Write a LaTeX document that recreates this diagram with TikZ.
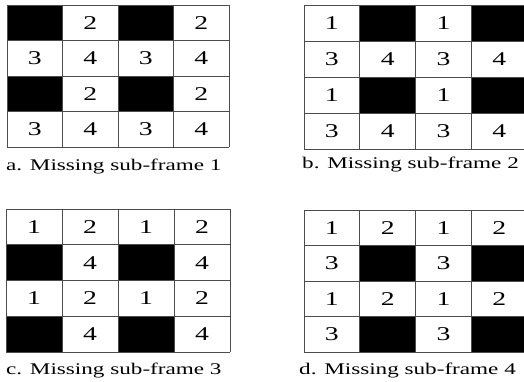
\documentclass[tikz,border=0pt]{standalone}
\usepackage{fontspec}
\setmainfont{Liberation Serif}
\newfontfamily\widefont[FakeStretch=1.42]{Liberation Serif}
\usepackage{tikz}
\usetikzlibrary{positioning}
\tikzset{%
  gridline/.style={draw=black!70,line width=1pt},
  hole/.style={fill=black},
  digit/.style={font=\widefont\fontsize{19.5}{20}\selectfont,inner sep=0pt},
  caption/.style={font=\widefont\fontsize{16.3}{18}\selectfont,anchor=base west,inner sep=0pt}%
}
% one 4x4 sub-frame: #1,#2 top left corner, #3,#4 cell size, #5 missing sub-frame, #6 name
\newcommand{\subframe}[6]{%
  \foreach \r in {0,...,3}{%
    \foreach \c in {0,...,3}{%
      \pgfmathtruncatemacro{\lab}{1+mod(\c,2)+2*mod(\r,2)}%
      \coordinate (#6-\r\c) at ({#1+(\c+0.5)*#3},{-(#2+(\r+0.5)*#4)});
      \ifnum\lab=#5
        \fill[hole] ({#1+\c*#3},{-(#2+\r*#4)}) rectangle ++(#3,-#4);
      \else
        \node[digit] at (#6-\r\c) {\lab};
      \fi
    }%
  }%
  \foreach \i in {0,...,4}{%
    \draw[gridline] ({#1+\i*#3},{-#2}) -- ++(0,{-4*#4});
    \draw[gridline] ({#1},{-(#2+\i*#4)}) -- ++({4*#3},0);
  }%
}

\begin{document}
\begin{tikzpicture}[x=1pt,y=1pt]
\useasboundingbox (0,0) rectangle (524,-381);
\clip (0,0) rectangle (524,-381);

% four sub-frame grids
\subframe{7}{5}{55.5}{35.5}{1}{fa}
\subframe{304}{5}{55.8}{36}{2}{fb}
\subframe{6}{209}{56}{35.75}{3}{fc}
\subframe{304}{210}{55.8}{35.5}{4}{fd}

% captions
\node[caption] (capa) at (6,-170.5) {a. Missing sub-frame 1};
\node[caption] (capb) at (302,-168.5) {b. Missing sub-frame 2};
\node[caption] (capc) at (6,-374) {c. Missing sub-frame 3};
\node[caption] (capd) at (299,-374) {d. Missing sub-frame 4};

\end{tikzpicture}
\end{document}
